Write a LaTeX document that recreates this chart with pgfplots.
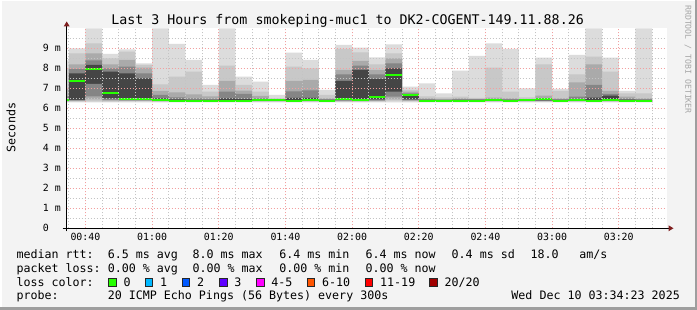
\documentclass[border=0pt]{standalone}
\usepackage{pgfplots}
\pgfplotsset{compat=1.18}
\usepackage{pgfplotstable}
\usepackage{fontspec}
\newfontfamily\dvm{DejaVu Sans Mono}
\newcommand\fs[1]{\fontsize{#1}{#1}\selectfont}
\definecolor{bgc}{HTML}{F3F3F3}
\definecolor{frameD}{HTML}{9E9E9E}
\definecolor{cA}{HTML}{DCDCDC}
\definecolor{cB}{HTML}{C8C8C8}
\definecolor{cC}{HTML}{AAAAAA}
\definecolor{cD}{HTML}{858585}
\definecolor{cE}{HTML}{454545}
\definecolor{lc0}{HTML}{26FF00}
\definecolor{lc1}{HTML}{00B8FF}
\definecolor{lc2}{HTML}{0059FF}
\definecolor{lc3}{HTML}{5E00FF}
\definecolor{lc5}{HTML}{FF00FF}
\definecolor{lc10}{HTML}{FF5500}
\definecolor{lc19}{HTML}{FF0000}
\definecolor{lc20}{HTML}{A10000}
\definecolor{mgrid}{HTML}{F2A0A0}
\definecolor{ngrid}{HTML}{C4C4C4}
\definecolor{arrowc}{HTML}{7F1F1F}

\pgfplotstableread{
x       b0   b1   b2   b3   b4   med  t4   t3   t2   t1   t0
34.383  6.30 6.33 6.35 6.37 6.39 6.40 6.45 6.60 7.00 8.00 8.40
35      6.30 6.33 6.36 6.39 6.42 7.37 7.75 7.97 8.20 8.75 9.00
40      6.30 6.35 6.45 6.60 7.22 7.98 8.17 8.40 8.75 9.25 10.0
45      6.30 6.33 6.38 6.42 6.50 6.77 7.83 8.00 8.20 8.50 8.72
50      6.32 6.35 6.37 6.39 6.41 6.47 7.75 8.08 8.42 8.83 8.95
55      6.32 6.35 6.37 6.39 6.41 6.47 7.50 7.75 8.03 8.17 8.25
60      6.30 6.33 6.35 6.37 6.39 6.42 6.50 6.67 6.87 7.20 10.0
65      6.30 6.33 6.35 6.37 6.39 6.37 6.45 6.55 6.80 7.58 9.22
70      6.30 6.33 6.35 6.37 6.39 6.37 6.42 6.50 6.70 7.83 8.42
75      6.30 6.33 6.35 6.37 6.39 6.37 6.42 6.47 6.60 6.83 7.17
80      6.30 6.33 6.35 6.37 6.39 6.37 6.50 6.83 7.37 8.13 10.0
85      6.30 6.33 6.35 6.37 6.39 6.37 6.47 6.72 6.88 7.17 7.58
90      6.30 6.33 6.35 6.37 6.39 6.43 6.45 6.50 6.62 6.83 7.33
95      6.30 6.33 6.35 6.37 6.39 6.40 6.40 6.42 6.45 6.50 6.67
100     6.30 6.33 6.35 6.37 6.39 6.37 6.52 6.85 7.37 8.08 8.78
105     6.30 6.33 6.35 6.37 6.39 6.43 6.52 6.90 7.42 8.00 8.42
110     6.30 6.33 6.35 6.37 6.39 6.37 6.42 6.45 6.50 6.67 6.92
115     6.30 6.33 6.35 6.38 6.42 6.48 7.37 7.70 7.92 8.97 9.17
120     6.30 6.33 6.35 6.38 6.41 6.42 7.92 8.13 8.37 8.80 9.03
125     6.30 6.33 6.36 6.40 6.45 6.55 7.47 7.70 7.92 8.20 8.55
130     6.33 6.38 6.45 6.58 6.83 7.68 8.00 8.25 8.50 8.75 9.20
135     6.32 6.35 6.38 6.40 6.45 6.68 6.70 6.75 6.83 6.92 7.08
140     6.30 6.33 6.35 6.37 6.39 6.37 6.42 6.45 6.50 6.60 7.25
145     6.30 6.33 6.35 6.37 6.39 6.37 6.40 6.43 6.47 6.55 6.75
150     6.30 6.33 6.35 6.37 6.39 6.37 6.42 6.45 6.50 6.58 7.88
155     6.30 6.33 6.35 6.37 6.39 6.37 6.42 6.44 6.47 6.52 8.62
160     6.30 6.33 6.35 6.37 6.39 6.42 6.44 6.47 6.53 8.03 9.25
165     6.30 6.33 6.35 6.37 6.39 6.37 6.42 6.45 6.50 6.83 8.97
170     6.30 6.33 6.35 6.37 6.39 6.42 6.40 6.42 6.45 6.55 7.00
175     6.30 6.33 6.35 6.37 6.39 6.48 6.45 6.50 6.63 8.20 8.53
180     6.30 6.33 6.35 6.37 6.39 6.37 6.42 6.45 6.50 6.87 6.97
185     6.30 6.33 6.35 6.37 6.39 6.40 6.45 6.58 7.30 7.70 8.67
190     6.30 6.33 6.35 6.37 6.39 6.37 6.53 7.17 8.20 8.58 10.0
195     6.30 6.33 6.35 6.37 6.39 6.40 6.63 6.72 6.87 7.83 8.53
200     6.30 6.33 6.35 6.37 6.39 6.37 6.43 6.48 6.58 6.75 6.87
205     6.30 6.33 6.35 6.37 6.39 6.37 6.42 6.45 6.50 6.75 10.0
210     6.30 6.33 6.35 6.37 6.39 6.37 6.42 6.45 6.50 6.75 10.0
}\smoke

\begin{document}
\begin{tikzpicture}[x=1pt,y=1pt]
\fill[bgc] (0,0) rectangle (697,310);
\path[use as bounding box] (0,0) rectangle (697,310);
\fill[white] (0,0) rectangle (1.5,310);
\fill[white] (0,308.5) rectangle (697,310);
\fill[frameD] (694.5,0) rectangle (697,310);
\fill[frameD] (0,0) rectangle (697,2.5);

\begin{axis}[
  at={(66.7pt,81.7pt)}, anchor=south west,
  scale only axis, width=600pt, height=200pt,
  xmin=34.383, xmax=214.383, ymin=0, ymax=10,
  axis on top,
  axis background/.style={fill=white},
  axis line style={draw=none},
  major tick length=0pt, minor tick length=0pt,
  tick pos=left,
  xtick={40,60,...,200},
  xticklabels={00:40,01:00,01:20,01:40,02:00,02:20,02:40,03:00,03:20},
  minor xtick={35,40,...,210},
  ytick={0,1,...,9},
  yticklabels={0,1 m,2 m,3 m,4 m,5 m,6 m,7 m,8 m,9 m},
  minor ytick={0.5,1.5,...,9.5},
  grid=both,
  major grid style={draw=mgrid, line width=0.7pt, dash pattern=on 1pt off 2pt},
  minor grid style={draw=ngrid, line width=0.7pt, dash pattern=on 1pt off 2pt},
  xticklabel style={anchor=base, inner sep=0pt, yshift=-12.7pt, font=\dvm\fs{9.9}},
  yticklabel style={anchor=west, inner sep=0pt, xshift=-24pt, font=\dvm\fs{9.9}},
]
\addplot[draw=none, fill=cA, const plot] table[x=x, y=t0] {\smoke} \closedcycle;
\addplot[draw=none, fill=cB, const plot] table[x=x, y=t1] {\smoke} \closedcycle;
\addplot[draw=none, fill=cC, const plot] table[x=x, y=t2] {\smoke} \closedcycle;
\addplot[draw=none, fill=cD, const plot] table[x=x, y=t3] {\smoke} \closedcycle;
\addplot[draw=none, fill=cE, const plot] table[x=x, y=t4] {\smoke} \closedcycle;
\addplot[draw=none, fill=cD, const plot] table[x=x, y=b4] {\smoke} \closedcycle;
\addplot[draw=none, fill=cC, const plot] table[x=x, y=b3] {\smoke} \closedcycle;
\addplot[draw=none, fill=cB, const plot] table[x=x, y=b2] {\smoke} \closedcycle;
\addplot[draw=none, fill=cA, const plot] table[x=x, y=b1] {\smoke} \closedcycle;
\addplot[draw=none, fill=white, const plot] coordinates {(30,6.30) (220,6.30)} \closedcycle;
\addplot[draw=lc0, line width=2pt, jump mark left] table[x=x, y=med] {\smoke};
\end{axis}

% axes with arrows
\draw[black, line width=0.9pt] (66.7,78.5) -- (66.7,284);
\fill[arrowc] (66.7,288.5) -- (63.7,283.5) -- (69.7,283.5) -- cycle;
\draw[black, line width=0.9pt] (62.5,81.7) -- (669,81.7);
\fill[arrowc] (673.5,81.7) -- (668.5,84.7) -- (668.5,78.7) -- cycle;

% title and labels
\node[anchor=base, inner sep=0pt] at (347.6,285.5) {\dvm\fs{13.3}Last 3 Hours from smokeping-muc1 to DK2-COGENT-149.11.88.26};
\node[rotate=90, inner sep=0pt] at (11,182.5) {\dvm\fs{11.65}Seconds};
\node[rotate=-90, anchor=west, inner sep=0pt, text=black!35] at (688,305) {\dvm\fs{8.2}RRDTOOL / TOBI OETIKER};

% legend rows
\begin{scope}[every node/.style={anchor=base west, inner sep=0pt, font=\dvm\fs{11.65}}]
\node at (16.4,51.7) {median rtt:};
\node at (107.6,51.7) {6.5 ms avg};
\node at (192.4,51.7) {8.0 ms max};
\node at (279.1,51.7) {6.4 ms min};
\node at (365.3,51.7) {6.4 ms now};
\node at (451.5,51.7) {0.4 ms sd};
\node at (530.5,51.7) {18.0};
\node at (579.2,51.7) {am/s};

\node at (16.4,37.8) {packet loss:};
\node at (107.6,37.8) {0.00 \% avg};
\node at (192.4,37.8) {0.00 \% max};
\node at (279.1,37.8) {0.00 \% min};
\node at (365.3,37.8) {0.00 \% now};

\node at (16.4,23.9) {loss color:};
\node at (123.5,23.9) {0};
\node at (160,23.9) {1};
\node at (196.9,23.9) {2};
\node at (234.2,23.9) {3};
\node at (271.1,23.9) {4-5};
\node at (321.8,23.9) {6-10};
\node at (380,23.9) {11-19};
\node at (444.4,23.9) {20/20};

\node at (16.4,10.0) {probe:};
\node at (107.6,10.0) {20 ICMP Echo Pings (56 Bytes) every 300s};
\node[anchor=base east] at (680,10.0) {Wed Dec 10 03:34:23 2025};
\end{scope}

\foreach \bx/\bc in {108.5/lc0,145.2/lc1,182.1/lc2,219.4/lc3,256.3/lc5,307.0/lc10,365.2/lc19,429.6/lc20}{
  \filldraw[fill=\bc, draw=black!85, line width=0.7pt] (\bx,23.7) rectangle ++(7.6,7.8);
}
\end{tikzpicture}
\end{document}
